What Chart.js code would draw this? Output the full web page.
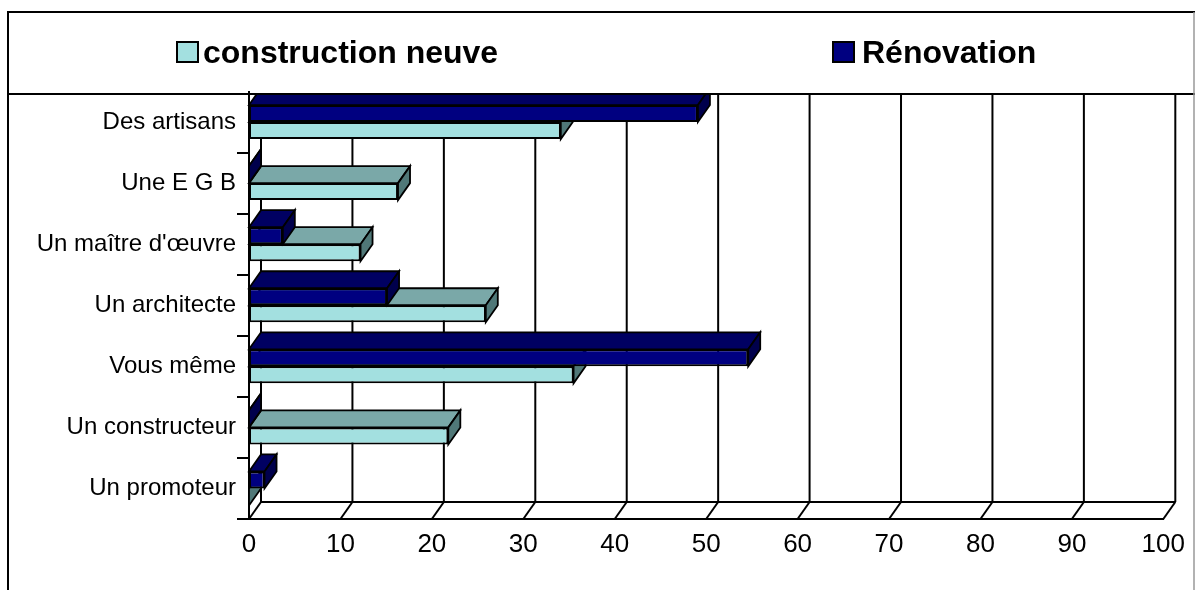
<!DOCTYPE html>
<html>
<head>
<meta charset="utf-8">
<script src="https://cdn.jsdelivr.net/npm/chart.js@4.4.1/dist/chart.umd.min.js"></script>
<style>
html,body{margin:0;padding:0;background:#fff;}
#wrap{width:1195px;height:590px;position:relative;}
</style>
</head>
<body>
<div id="wrap"><canvas id="c" width="1195" height="590"></canvas></div>
<script>
// ---- data ----
const categories = ['Des artisans', 'Une E G B', "Un maître d'œuvre", 'Un architecte', 'Vous même', 'Un constructeur', 'Un promoteur'];
const seriesNames = ['construction neuve', 'Rénovation'];
const constructionNeuve = [34.1, 16.3, 12.2, 25.9, 35.5, 21.8, 0];
const renovation = [49.1, 0, 3.7, 15.1, 54.6, 0, 1.7];
const xTickMin = 0, xTickMax = 100, xTickStep = 10;

// ---- styling ----
const DX = 12, DY = 17;
const FONT = "'Liberation Sans', Arial, sans-serif";

const depthPlugin = {
  id: 'depth3d',
  beforeDatasetsDraw(chart) {
    const ctx = chart.ctx, ca = chart.chartArea, xs = chart.scales.x;
    ctx.save();
    ctx.beginPath();
    ctx.rect(0, 95, chart.width, chart.height - 95);
    ctx.clip();
    ctx.strokeStyle = '#000';
    ctx.lineWidth = 2;
    const vals = xs.ticks.map(t => t.value);
    // back wall grid lines
    vals.forEach(v => {
      const p = xs.getPixelForValue(v) + DX;
      ctx.beginPath(); ctx.moveTo(p, ca.top - DY); ctx.lineTo(p, ca.bottom - DY); ctx.stroke();
    });
    // floor
    ctx.beginPath();
    ctx.moveTo(xs.getPixelForValue(vals[0]) + DX, ca.bottom - DY);
    ctx.lineTo(xs.getPixelForValue(vals[vals.length - 1]) + DX, ca.bottom - DY);
    ctx.stroke();
    vals.forEach(v => {
      const p = xs.getPixelForValue(v);
      ctx.beginPath(); ctx.moveTo(p, ca.bottom); ctx.lineTo(p + DX, ca.bottom - DY); ctx.stroke();
    });
    // 3D faces of bars (lower series first)
    ctx.lineWidth = 1.8;
    ctx.lineJoin = 'miter';
    [1, 0].forEach(di => {
      const meta = chart.getDatasetMeta(di);
      const ds = chart.data.datasets[di];
      meta.data.forEach(bar => {
        const p = bar.getProps(['x', 'y', 'base', 'height'], true);
        const top = p.y - p.height / 2, bottom = p.y + p.height / 2;
        const x0 = Math.min(p.base, p.x), x1 = Math.max(p.base, p.x);
        ctx.beginPath();
        ctx.moveTo(x0, top); ctx.lineTo(x0 + DX, top - DY); ctx.lineTo(x1 + DX, top - DY); ctx.lineTo(x1, top); ctx.closePath();
        ctx.fillStyle = ds.topColor; ctx.fill(); ctx.stroke();
        ctx.beginPath();
        ctx.moveTo(x1, top); ctx.lineTo(x1 + DX, top - DY); ctx.lineTo(x1 + DX, bottom - DY); ctx.lineTo(x1, bottom); ctx.closePath();
        ctx.fillStyle = ds.sideColor; ctx.fill(); ctx.stroke();
      });
    });
    ctx.restore();
  },
  afterDraw(chart) {
    const ctx = chart.ctx;
    ctx.save();
    // frame
    ctx.strokeStyle = '#000';
    ctx.lineWidth = 2;
    ctx.beginPath();
    ctx.moveTo(8, 590); ctx.lineTo(8, 12); ctx.lineTo(1195, 12);
    ctx.moveTo(8, 94); ctx.lineTo(1195, 94);
    ctx.stroke();
    ctx.strokeStyle = '#999';
    ctx.lineWidth = 1.5;
    ctx.beginPath(); ctx.moveTo(1194, 12); ctx.lineTo(1194, 590); ctx.stroke();
    // legend
    const items = [
      {ds: chart.data.datasets[1], bx: 177, tx: 203},
      {ds: chart.data.datasets[0], bx: 833, tx: 862}
    ];
    ctx.font = 'bold 32px ' + FONT;
    ctx.textBaseline = 'alphabetic';
    ctx.textAlign = 'left';
    items.forEach(it => {
      ctx.fillStyle = it.ds.backgroundColor;
      ctx.fillRect(it.bx, 42, 21, 20);
      ctx.strokeStyle = '#000'; ctx.lineWidth = 2;
      ctx.strokeRect(it.bx, 42, 21, 20);
      ctx.fillStyle = '#000';
      ctx.fillText(it.ds.label, it.tx, 63);
    });
    ctx.restore();
  }
};

new Chart(document.getElementById('c'), {
  type: 'bar',
  data: {
    labels: categories,
    datasets: [
      { label: seriesNames[1], data: renovation, backgroundColor: '#000080', topColor: '#000062', sideColor: '#00004C',
        borderColor: '#000', borderWidth: 2, borderSkipped: false },
      { label: seriesNames[0], data: constructionNeuve, backgroundColor: '#A3E0E0', topColor: '#7AA8A8', sideColor: '#507878',
        borderColor: '#000', borderWidth: 2, borderSkipped: false }
    ]
  },
  options: {
    indexAxis: 'y',
    responsive: false,
    animation: false,
    devicePixelRatio: 1,
    layout: { padding: { top: 91.5, left: 0, right: 27, bottom: 0 } },
    datasets: { bar: { categoryPercentage: 0.557, barPercentage: 1 } },
    plugins: { legend: { display: false }, tooltip: { enabled: false }, title: { display: false } },
    scales: {
      x: {
        type: 'linear', min: xTickMin, max: xTickMax,
        ticks: { stepSize: xTickStep, color: '#000', padding: 10, font: { family: FONT, size: 26 } },
        grid: { display: false, drawTicks: false },
        border: { display: true, color: '#000', width: 2 },
        afterFit: s => { s.height = 71; }
      },
      y: {
        type: 'category', offset: true,
        ticks: { color: '#000', padding: 1, font: { family: FONT, size: 24 } },
        grid: { offset: true, drawOnChartArea: false, drawTicks: true, tickLength: 12, lineWidth: 2,
                color: c => (c.index === 0 ? 'rgba(0,0,0,0)' : '#000') },
        border: { display: true, color: '#000', width: 2 },
        afterFit: s => { s.width = 249; }
      }
    }
  },
  plugins: [depthPlugin]
});
</script>
</body>
</html>
